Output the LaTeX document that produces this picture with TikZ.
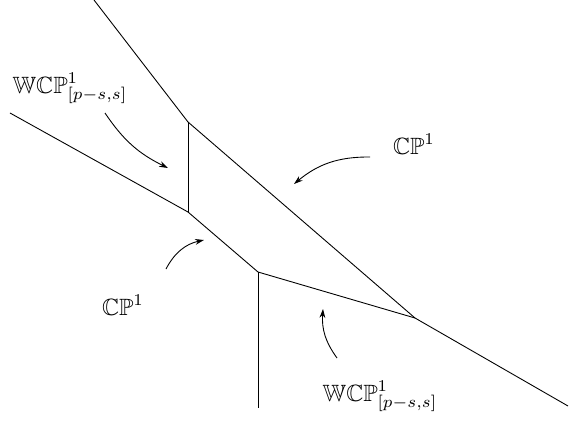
\documentclass[tikz,border=0pt]{standalone}
\usepackage{amsmath,amssymb}
\usepackage{tikz}
\usetikzlibrary{arrows.meta}

\begin{document}
\begin{tikzpicture}[
  x=0.45pt, y=-0.45pt,
  >={Stealth[length=4pt,width=2.6pt]},
  leg/.style={line width=0.4pt},
  pointer/.style={->, line width=0.4pt},
  lbl/.style={inner sep=1pt, scale=1.06}
]
  \useasboundingbox (0,0) rectangle (570,421);

  % vertices of the web
  \coordinate (top) at (94,0);
  \coordinate (upj) at (188,122);
  \coordinate (left) at (10,113);
  \coordinate (lowj) at (188,212);
  \coordinate (midj) at (258,272);
  \coordinate (bot) at (258,408);
  \coordinate (rj) at (415,318);
  \coordinate (right) at (568,406);

  \draw[leg] (top) -- (upj);
  \draw[leg] (upj) -- (lowj);
  \draw[leg] (left) -- (lowj);
  \draw[leg] (lowj) -- (midj);
  \draw[leg] (midj) -- (bot);
  \draw[leg] (midj) -- (rj);
  \draw[leg] (upj) -- (rj);
  \draw[leg] (rj) -- (right);

  % labels
  \node[lbl] (wcpa) at (70,88) {$\mathbb{WCP}^1_{[p-s,s]}$};
  \node[lbl] (cpa) at (123,305) {$\mathbb{CP}^1$};
  \node[lbl] (cpb) at (414,144) {$\mathbb{CP}^1$};
  \node[lbl] (wcpb) at (380,396) {$\mathbb{WCP}^1_{[p-s,s]}$};

  % pointers
  \coordinate (s1) at (105,113);
  \coordinate (e1) at (168,168);
  \coordinate (s2) at (166,269);
  \coordinate (e2) at (204,240);
  \coordinate (s3) at (370,157);
  \coordinate (e3) at (294,184);
  \coordinate (s4) at (337,358);
  \coordinate (e4) at (323,309);

  \draw[pointer] (s1) to[bend right=15] (e1);
  \draw[pointer] (s2) to[bend left=25] (e2);
  \draw[pointer] (s3) to[bend right=20] (e3);
  \draw[pointer] (s4) to[bend left=20] (e4);
\end{tikzpicture}
\end{document}
